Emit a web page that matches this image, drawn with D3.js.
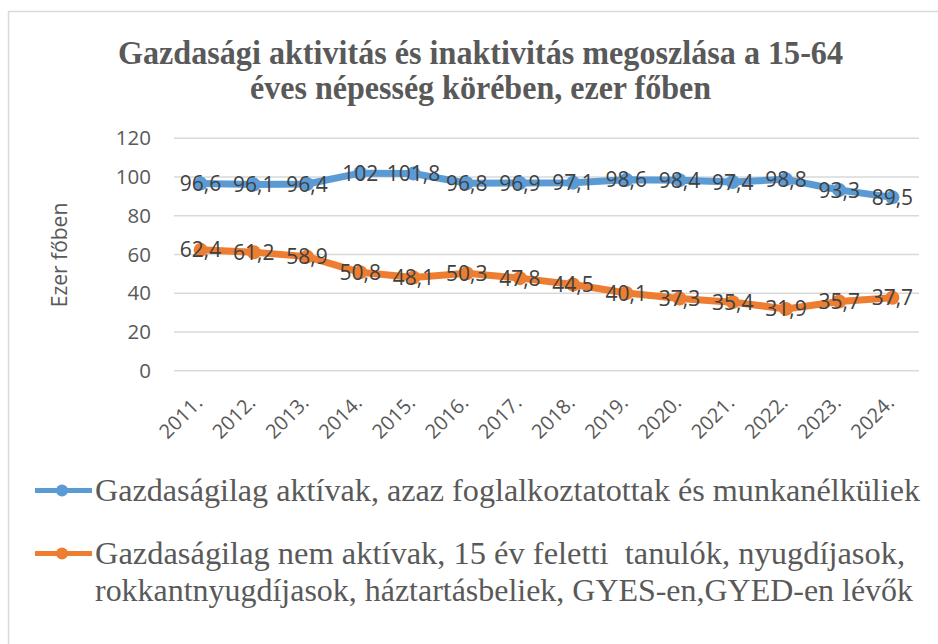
<!DOCTYPE html>
<html>
<head>
<meta charset="utf-8">
<script src="https://cdn.jsdelivr.net/npm/d3@7"></script>
<style>
  body { margin: 0; background: #fff; }
  svg { display: block; }
</style>
</head>
<body>
<div id="chart"></div>
<script>
// Data
const years = ["2011.", "2012.", "2013.", "2014.", "2015.", "2016.", "2017.", "2018.", "2019.", "2020.", "2021.", "2022.", "2023.", "2024."];
const active = [96.6, 96.1, 96.4, 102, 101.8, 96.8, 96.9, 97.1, 98.6, 98.4, 97.4, 98.8, 93.3, 89.5];
const inactive = [62.4, 61.2, 58.9, 50.8, 48.1, 50.3, 47.8, 44.5, 40.1, 37.3, 35.4, 31.9, 35.7, 37.7];
const yTicks = [0, 20, 40, 60, 80, 100, 120];
const titleLines = ["Gazdasági aktivitás és inaktivitás megoszlása a 15-64", "éves népesség körében, ezer főben"];
const legendActive = ["Gazdaságilag aktívak, azaz foglalkoztatottak és munkanélküliek"];
const legendInactive = ["Gazdaságilag nem aktívak, 15 év feletti  tanulók, nyugdíjasok,", "rokkantnyugdíjasok, háztartásbeliek, GYES-en,GYED-en lévők"];

const svgWidth = 938;
const svgHeight = 644;
const plot = { left: 174, right: 919, top: 138.3, bottom: 370.7 };

const svg = d3.select("#chart")
    .append("svg")
    .attr("width", svgWidth)
    .attr("height", svgHeight);

// frame
svg.append("rect")
    .attr("x", 8.5)
    .attr("y", 11.5)
    .attr("width", 960)
    .attr("height", 660)
    .attr("fill", "none")
    .attr("stroke", "#d9d9d9")
    .attr("stroke-width", 1.5);

// title
const titleWidths = [725, 461];
svg.append("g").selectAll("text")
    .data(titleLines)
    .join("text")
    .attr("x", (d, i) => i === 0 ? 118 : 250)
    .attr("y", (d, i) => 64 + i * 35)
    .attr("textLength", (d, i) => titleWidths[i])
    .attr("lengthAdjust", "spacingAndGlyphs")
    .attr("font-family", "'Liberation Serif', 'Times New Roman', serif")
    .attr("font-weight", "bold")
    .attr("font-size", 33)
    .attr("fill", "#595959")
    .text(d => d);

const x = d3.scaleBand()
    .domain(years)
    .range([plot.left, plot.right]);

const y = d3.scaleLinear()
    .domain([0, 120])
    .range([plot.bottom, plot.top]);

const cx = d => x(d) + x.bandwidth() / 2;

// gridlines
svg.append("g").selectAll("line")
    .data(yTicks)
    .join("line")
    .attr("x1", plot.left)
    .attr("x2", plot.right)
    .attr("y1", d => y(d))
    .attr("y2", d => y(d))
    .attr("stroke", "#d9d9d9")
    .attr("stroke-width", 1.5);

// y axis labels
const yAxis = svg.append("g")
    .attr("transform", `translate(${plot.left - 23}, 0)`)
    .call(d3.axisLeft(y).tickValues(yTicks).tickSize(0).tickPadding(0));
yAxis.select(".domain").remove();
yAxis.selectAll("text")
    .attr("font-family", "'Open Sans', sans-serif")
    .attr("font-size", 20.5)
    .attr("fill", "#595959");

// x axis labels (rotated)
svg.append("g").selectAll("text")
    .data(years)
    .join("text")
    .attr("transform", d => `translate(${cx(d) + 3}, 404) rotate(-45)`)
    .attr("text-anchor", "end")
    .attr("font-family", "'Open Sans', sans-serif")
    .attr("font-size", 20)
    .attr("fill", "#595959")
    .text(d => d);

// y axis title
svg.append("text")
    .attr("transform", "translate(67, 255) rotate(-90)")
    .attr("text-anchor", "middle")
    .attr("font-family", "'Open Sans', sans-serif")
    .attr("font-size", 21)
    .attr("fill", "#595959")
    .text("Ezer főben");

const series = [
    { values: active, color: "#5b9bd5" },
    { values: inactive, color: "#ed7d31" }
];

const line = d3.line()
    .x((d, i) => cx(years[i]))
    .y(d => y(d));

series.forEach(s => {
    svg.append("path")
        .datum(s.values)
        .attr("fill", "none")
        .attr("stroke", s.color)
        .attr("stroke-width", 7)
        .attr("stroke-linejoin", "round")
        .attr("d", line);

    svg.append("g").selectAll("circle")
        .data(s.values)
        .join("circle")
        .attr("cx", (d, i) => cx(years[i]))
        .attr("cy", d => y(d))
        .attr("r", 7)
        .attr("fill", s.color);
});

// data labels centred on points
series.forEach(s => {
    svg.append("g").selectAll("text")
        .data(s.values)
        .join("text")
        .attr("x", (d, i) => cx(years[i]))
        .attr("y", d => y(d))
        .attr("dy", "0.36em")
        .attr("text-anchor", "middle")
        .attr("font-family", "'Open Sans', sans-serif")
        .attr("font-size", 21)
        .attr("fill", "#404040")
        .text(d => String(d).replace(".", ","));
});

// legend
const legendItems = [
    { lines: legendActive, color: "#5b9bd5", y: 501, widths: [825] },
    { lines: legendInactive, color: "#ed7d31", y: 564, widths: [810, 818] }
];

legendItems.forEach(item => {
    const g = svg.append("g");
    g.append("line")
        .attr("x1", 35)
        .attr("x2", 92)
        .attr("y1", item.y - 10.5)
        .attr("y2", item.y - 10.5)
        .attr("stroke", item.color)
        .attr("stroke-width", 5);
    g.append("circle")
        .attr("cx", 62)
        .attr("cy", item.y - 10.5)
        .attr("r", 6)
        .attr("fill", item.color);
    g.selectAll("text")
        .data(item.lines)
        .join("text")
        .attr("x", 95)
        .attr("y", (d, i) => item.y + i * 37)
        .attr("textLength", (d, i) => item.widths[i])
        .attr("lengthAdjust", "spacingAndGlyphs")
        .attr("font-family", "'Liberation Serif', 'Times New Roman', serif")
        .attr("font-size", 32)
        .attr("fill", "#595959")
        .attr("xml:space", "preserve")
        .text(d => d);
});
</script>
</body>
</html>
